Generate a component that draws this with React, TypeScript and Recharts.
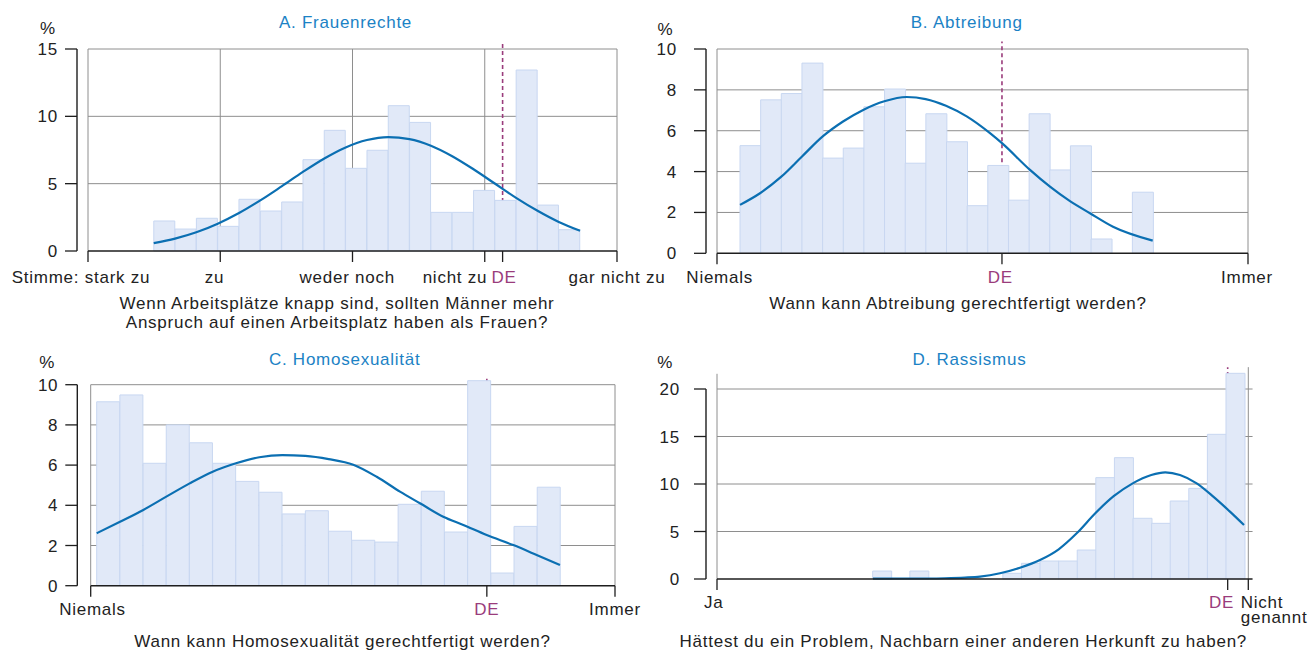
import React from 'react';
import { ComposedChart, Bar, Line, XAxis, YAxis, ReferenceLine } from 'recharts';

const FONT = '"Liberation Sans", Arial, Helvetica, sans-serif';
const BAR_FILL = '#e1e9f8';
const BAR_STROKE = '#c8d7f1';
const CURVE = '#0b6fb2';
const GRID = '#8e8e8e';
const AXIS = '#1e1e1e';
const DE_COLOR = '#9a3c7c';
const TITLE_COLOR = '#1b82c5';
const TEXT = '#222222';

// ---------- Panel A: Frauenrechte ----------
const aBins = [1.578, 1.739, 1.9, 2.061, 2.222, 2.384, 2.545, 2.706, 2.867, 3.028, 3.19, 3.351, 3.512, 3.673, 3.834, 3.996, 4.157, 4.318, 4.479, 4.64];
const aValues = [2.23, 1.63, 2.43, 1.83, 3.84, 2.97, 3.64, 6.78, 8.96, 6.14, 7.48, 10.79, 9.55, 2.87, 2.87, 4.5, 3.76, 13.44, 3.41, 1.58];
const aCurveX = [1.497, 1.658, 1.819, 1.981, 2.142, 2.303, 2.464, 2.625, 2.787, 2.948, 3.109, 3.27, 3.431, 3.593, 3.754, 3.915, 4.076, 4.237, 4.399, 4.56, 4.721];
const aCurveY = [0.58, 0.92, 1.39, 2.03, 2.82, 3.76, 4.8, 5.87, 6.87, 7.69, 8.24, 8.46, 8.31, 7.82, 7.04, 6.07, 5.01, 3.95, 2.99, 2.16, 1.5];
const aTicks = [1, 2, 3, 4, 4.135, 5];
const aTickLabels = ['Stimme: stark zu', 'zu', 'weder noch', 'nicht zu', 'DE', 'gar nicht zu'];
const aYTicks = [0, 5, 10, 15];
const aDE = 4.135;

// ---------- Panel B: Abtreibung ----------
const bBins = [1.565, 1.915, 2.265, 2.615, 2.965, 3.315, 3.665, 4.015, 4.365, 4.715, 5.065, 5.415, 5.765, 6.115, 6.465, 6.815, 7.165, 7.515, 7.865, 8.215];
const bValues = [5.27, 7.51, 7.82, 9.31, 4.66, 5.15, 7.17, 8.04, 4.41, 6.83, 5.46, 2.33, 4.3, 2.6, 6.83, 4.08, 5.26, 0.7, 0, 2.99];
const bCurveX = [1.39, 1.729, 2.09, 2.441, 2.792, 3.136, 3.486, 3.836, 4.215, 4.537, 4.881, 5.232, 5.627, 5.83, 6.305, 6.644, 6.983, 7.322, 7.712, 8.385];
const bCurveY = [2.37, 2.94, 3.75, 4.74, 5.72, 6.45, 7.03, 7.44, 7.65, 7.55, 7.22, 6.7, 5.88, 5.39, 4.08, 3.26, 2.55, 1.96, 1.3, 0.62];
const bTicks = [1, 5.83, 10];
const bTickLabels = ['Niemals', 'DE', 'Immer'];
const bYTicks = [0, 2, 4, 6, 8, 10];
const bDE = 5.83;

// ---------- Panel C: Homosexualität ----------
const cBins = [1.302, 1.7, 2.098, 2.496, 2.894, 3.292, 3.69, 4.088, 4.486, 4.884, 5.282, 5.68, 6.078, 6.476, 6.874, 7.272, 7.67, 8.068, 8.466, 8.864];
const cValues = [9.15, 9.49, 6.09, 8.0, 7.11, 6.09, 5.19, 4.65, 3.57, 3.73, 2.71, 2.26, 2.17, 4.05, 4.7, 2.67, 10.2, 0.63, 2.95, 4.9];
const cCurveX = [1.103, 1.503, 1.903, 2.298, 2.699, 3.094, 3.494, 3.894, 4.289, 4.684, 5.085, 5.507, 5.909, 6.309, 6.652, 7.052, 7.396, 7.797, 8.254, 8.655, 9.055];
const cCurveY = [2.61, 3.18, 3.77, 4.43, 5.09, 5.67, 6.09, 6.39, 6.5, 6.46, 6.3, 6.02, 5.42, 4.68, 4.1, 3.43, 3.02, 2.52, 2.02, 1.53, 1.03];
const cTicks = [1, 7.8, 10];
const cTickLabels = ['Niemals', 'DE', 'Immer'];
const cYTicks = [0, 2, 4, 6, 8, 10];
const cDE = 7.8;

// ---------- Panel D: Rassismus ----------
const dBins = [31.05, 34.55, 38.05, 41.55, 45.05, 48.55, 52.05, 55.55, 59.05, 62.55, 66.05, 69.55, 73.05, 76.55, 80.05, 83.55, 87.05, 90.55, 94.05, 97.55];
const dValues = [0.84, 0, 0.84, 0, 0, 0, 0, 0.6, 1.65, 1.89, 1.89, 3.05, 10.67, 12.77, 6.39, 5.86, 8.21, 9.54, 15.23, 21.65];
const dCurveX = [29.36, 38.21, 42.91, 46.68, 49.5, 53.27, 57.03, 60.79, 64.31, 67.7, 71.2, 74.72, 78.24, 81.74, 84.38, 87.14, 90.29, 93.41, 96.55, 99.19];
const dCurveY = [0.03, 0.05, 0.08, 0.15, 0.25, 0.6, 1.19, 2.0, 3.13, 4.81, 6.92, 8.74, 10.07, 10.95, 11.23, 10.95, 10.07, 8.67, 7.09, 5.68];
const dTicks = [0, 96.12, 100];
const dTickLabels = ['Ja', 'DE', 'Nicht\ngenannt'];
const dYTicks = [0, 5, 10, 15, 20];
const dDE = 96.12;

// ---------- Texts ----------
const panelTitles = ['A. Frauenrechte', 'B. Abtreibung', 'C. Homosexualität', 'D. Rassismus'];
const questions = [
  ['Wenn Arbeitsplätze knapp sind, sollten Männer mehr', 'Anspruch auf einen Arbeitsplatz haben als Frauen?'],
  ['Wann kann Abtreibung gerechtfertigt werden?'],
  ['Wann kann Homosexualität gerechtfertigt werden?'],
  ['Hättest du ein Problem, Nachbarn einer anderen Herkunft zu haben?'],
];
const unitLabel = '%';

type TickStyle = { anchor: 'start' | 'middle' | 'end'; dx: number };
type VLine = { x: number; top: number };

interface PanelCfg {
  left: number; top: number; width: number; height: number;
  margin: { top: number; right: number; bottom: number; left: number };
  yAxisWidth: number;
  xDomain: [number, number]; xPad: number;
  xTicks: number[]; xTickLabels: string[]; xTickStyle: TickStyle[]; tickDy: number;
  yDomain: [number, number]; yTicks: number[]; yTickMargin: number; yAxisDash?: string;
  bins: number[]; values: number[]; curveX: number[]; curveY: number[];
  de: number; deTop: number;
  gridY: number[]; gridXStart: number; gridXEnd: number; vLines: VLine[];
  baseline: [number, number];
}

const panels: PanelCfg[] = [
  {
    left: 0, top: 0, width: 690, height: 325,
    margin: { top: 49, right: 73, bottom: 34, left: 17 }, yAxisWidth: 60,
    xDomain: [1, 5], xPad: 11,
    xTicks: aTicks, xTickLabels: aTickLabels,
    xTickStyle: [
      { anchor: 'middle', dx: -7 }, { anchor: 'middle', dx: -5.7 }, { anchor: 'middle', dx: -5.3 },
      { anchor: 'end', dx: 2.5 }, { anchor: 'start', dx: -11 }, { anchor: 'middle', dx: 0 },
    ],
    tickDy: 21.3,
    yDomain: [0, 15], yTicks: aYTicks, yTickMargin: 7,
    bins: aBins, values: aValues, curveX: aCurveX, curveY: aCurveY,
    de: aDE, deTop: 15.44,
    gridY: [5, 10, 15], gridXStart: 1, gridXEnd: 5,
    vLines: [{ x: 1, top: 15 }, { x: 2, top: 15 }, { x: 3, top: 15 }, { x: 4, top: 15 }, { x: 5, top: 15 }],
    baseline: [1, 5],
  },
  {
    left: 657, top: 0, width: 657, height: 325,
    margin: { top: 49, right: 66, bottom: 31.7, left: 9 }, yAxisWidth: 40,
    xDomain: [1, 10], xPad: 11,
    xTicks: bTicks, xTickLabels: bTickLabels,
    xTickStyle: [{ anchor: 'middle', dx: 2.7 }, { anchor: 'middle', dx: -1.7 }, { anchor: 'middle', dx: -1 }],
    tickDy: 18.3,
    yDomain: [0, 10], yTicks: bYTicks, yTickMargin: 17,
    bins: bBins, values: bValues, curveX: bCurveX, curveY: bCurveY,
    de: bDE, deTop: 10.37,
    gridY: [2, 4, 6, 8, 10], gridXStart: 1, gridXEnd: 10,
    vLines: [{ x: 1, top: 10 }, { x: 10, top: 10 }],
    baseline: [1, 10],
  },
  {
    left: 0, top: 325, width: 657, height: 325,
    margin: { top: 51.66, right: 42, bottom: 24.3, left: 17.3 }, yAxisWidth: 60,
    xDomain: [1, 10], xPad: 13.4,
    xTicks: cTicks, xTickLabels: cTickLabels,
    xTickStyle: [{ anchor: 'middle', dx: 1.8 }, { anchor: 'middle', dx: 0 }, { anchor: 'middle', dx: 0 }],
    tickDy: 18.3,
    yDomain: [0, 10.4], yTicks: cYTicks, yTickMargin: 7, yAxisDash: '0 8.04 3000',
    bins: cBins, values: cValues, curveX: cCurveX, curveY: cCurveY,
    de: cDE, deTop: 10.38,
    gridY: [2, 4, 6, 8, 10], gridXStart: 1, gridXEnd: 10,
    vLines: [{ x: 1, top: 10 }, { x: 10, top: 10 }],
    baseline: [1, 10],
  },
  {
    left: 657, top: 325, width: 657, height: 325,
    margin: { top: 42.15, right: 65.7, bottom: 31, left: 9 }, yAxisWidth: 40,
    xDomain: [0, 100], xPad: 11,
    xTicks: dTicks, xTickLabels: dTickLabels,
    xTickStyle: [{ anchor: 'middle', dx: -3.2 }, { anchor: 'end', dx: 6.5 }, { anchor: 'start', dx: -7.5 }],
    tickDy: 18.3,
    yDomain: [0, 22.3], yTicks: dYTicks, yTickMargin: 14, yAxisDash: '0 21.85 3000',
    bins: dBins, values: dValues, curveX: dCurveX, curveY: dCurveY,
    de: dDE, deTop: 22.3,
    gridY: [5, 10, 15, 20], gridXStart: 0, gridXEnd: 100.8,
    vLines: [{ x: 0, top: 21.6 }, { x: 100, top: 22.3 }],
    baseline: [0, 100.8],
  },
];

// overlay text layout
const titlePos = [
  { x: 345.5, y: 27.7 }, { x: 966.7, y: 27.7 }, { x: 344.7, y: 365 }, { x: 969.5, y: 365 },
];
const unitPos = [
  { x: 40, y: 34 }, { x: 657.5, y: 34.5 }, { x: 39.3, y: 368.3 }, { x: 657.3, y: 368.3 },
];
const questionPos = [
  { x: 337, y: 309.3 }, { x: 958, y: 309.3 }, { x: 342.5, y: 647 }, { x: 963.3, y: 647 },
];

function makeTick(cfg: PanelCfg) {
  return (p: any) => {
    const { x, y, payload } = p;
    const i = cfg.xTicks.findIndex((t) => Math.abs(t - payload.value) < 1e-6);
    if (i < 0) return <g />;
    const label = cfg.xTickLabels[i];
    const st = cfg.xTickStyle[i];
    const lines = label.split('\n');
    const color = label === 'DE' ? DE_COLOR : TEXT;
    const tx = x + st.dx;
    return (
      <text x={tx} y={y + cfg.tickDy} textAnchor={st.anchor} fill={color}>
        {lines.map((l, k) => (
          <tspan key={k} x={tx} dy={k === 0 ? 0 : 14.7}>{l}</tspan>
        ))}
      </text>
    );
  };
}

function Panel({ cfg }: { cfg: PanelCfg }) {
  const barData = cfg.bins.map((x, i) => ({ x, v: cfg.values[i] }));
  const curveData = cfg.curveX.map((x, i) => ({ x, y: cfg.curveY[i] }));
  return (
    <div style={{ position: 'absolute', left: cfg.left, top: cfg.top }}>
      <ComposedChart
        width={cfg.width}
        height={cfg.height}
        data={barData}
        margin={cfg.margin}
        barCategoryGap={0}
        barGap={0}
      >
        <XAxis
          xAxisId={0}
          type="number"
          dataKey="x"
          domain={cfg.xDomain}
          ticks={cfg.xTicks}
          interval={0}
          padding={{ left: cfg.xPad, right: 0 }}
          axisLine={false}
          tickLine={{ stroke: AXIS, strokeWidth: 1.3 }}
          tickSize={11}
          tickMargin={0}
          height={40}
          tick={makeTick(cfg)}
        />
        <XAxis
          xAxisId="c"
          type="number"
          dataKey="x"
          domain={cfg.xDomain}
          padding={{ left: cfg.xPad, right: 0 }}
          hide
        />
        <YAxis
          type="number"
          domain={cfg.yDomain}
          ticks={cfg.yTicks}
          interval={0}
          width={cfg.yAxisWidth}
          tickSize={12}
          tickMargin={cfg.yTickMargin}
          axisLine={{ stroke: AXIS, strokeWidth: 1.4, strokeDasharray: cfg.yAxisDash }}
          tickLine={{ stroke: AXIS, strokeWidth: 1.3 }}
          tick={{ fill: TEXT }}
        />
        {cfg.gridY.map((g) => (
          <ReferenceLine
            key={'h' + g}
            segment={[{ x: cfg.gridXStart, y: g }, { x: cfg.gridXEnd, y: g }]}
            stroke={GRID}
            strokeWidth={1}
            ifOverflow="visible"
            zIndex={-60}
          />
        ))}
        {cfg.vLines.map((v) => (
          <ReferenceLine
            key={'v' + v.x}
            segment={[{ x: v.x, y: 0 }, { x: v.x, y: v.top }]}
            stroke={GRID}
            strokeWidth={1}
            ifOverflow="visible"
            zIndex={-60}
          />
        ))}
        <ReferenceLine
          segment={[{ x: cfg.de, y: 0 }, { x: cfg.de, y: cfg.deTop }]}
          stroke={DE_COLOR}
          strokeWidth={1.6}
          strokeDasharray="4 3"
          ifOverflow="visible"
          zIndex={-55}
        />
        <Bar dataKey="v" fill={BAR_FILL} stroke={BAR_STROKE} strokeWidth={1} isAnimationActive={false} />
        <Line
          xAxisId="c"
          data={curveData}
          dataKey="y"
          type="monotone"
          stroke={CURVE}
          strokeWidth={2.2}
          dot={false}
          activeDot={false}
          isAnimationActive={false}
        />
        <ReferenceLine
          segment={[{ x: cfg.baseline[0], y: 0 }, { x: cfg.baseline[1], y: 0 }]}
          stroke={AXIS}
          strokeWidth={1.4}
          ifOverflow="visible"
          zIndex={500}
        />
      </ComposedChart>
    </div>
  );
}

export default function App() {
  return (
    <div
      style={{
        position: 'absolute', left: 0, top: 0, width: 1314, height: 650, overflow: 'hidden',
        background: '#ffffff', fontFamily: FONT, fontSize: 17, letterSpacing: '0.75px', color: TEXT,
      }}
    >
      {panels.map((cfg, i) => (
        <Panel key={i} cfg={cfg} />
      ))}
      <svg
        width={1314}
        height={650}
        style={{ position: 'absolute', left: 0, top: 0, pointerEvents: 'none' }}
      >
        {panelTitles.map((t, i) => (
          <text key={'t' + i} x={titlePos[i].x} y={titlePos[i].y} textAnchor="middle" fill={TITLE_COLOR}>{t}</text>
        ))}
        {unitPos.map((p, i) => (
          <text key={'u' + i} x={p.x} y={p.y} fill={TEXT}>{unitLabel}</text>
        ))}
        {questions.map((lines, i) => (
          <text key={'q' + i} x={questionPos[i].x} y={questionPos[i].y} textAnchor="middle" fill={TEXT}>
            {lines.map((l, k) => (
              <tspan key={k} x={questionPos[i].x} dy={k === 0 ? 0 : 18.3}>{l}</tspan>
            ))}
          </text>
        ))}
      </svg>
    </div>
  );
}
